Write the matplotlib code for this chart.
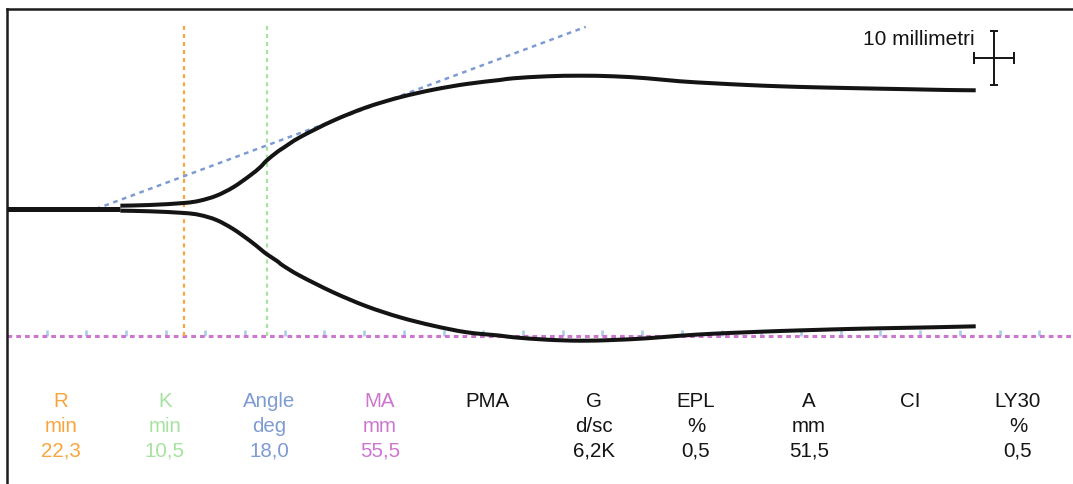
import matplotlib
matplotlib.use("Agg")
import matplotlib.pyplot as plt
from matplotlib.path import Path
from matplotlib.patches import PathPatch

plt.rcParams['font.family'] = ['Liberation Sans', 'DejaVu Sans']
plt.rcParams['lines.scale_dashes'] = False

# ---- TEG parameters -------------------------------------------------------
r_time = 22.3      # min
k_time = 10.5      # min
angle_deg = 18.0   # deg
ma_mm = 55.5       # mm

# ---- traced amplitude (mm) against time (min) ----------------------------
trace_time = [14.3, 18.0, 22.3, 24.3, 26.4, 28.5, 30.6, 31.9, 32.7, 34.0,
              34.8, 36.9, 41.1, 45.3, 49.5, 53.7, 57.9, 62.1, 63.8, 68.0,
              72.2, 76.4, 80.6, 84.8, 89.0, 93.2, 97.4, 101.6, 105.8, 110.0,
              114.1, 118.3, 122.0]
trace_upper = [0.72, 0.87, 1.31, 1.81, 2.90, 4.73, 7.26, 9.09, 10.53, 12.36,
               13.3, 15.63, 19.25, 22.17, 24.35, 26.0, 27.25, 28.12, 28.49, 28.92,
               29.05, 28.92, 28.49, 27.83, 27.40, 27.03, 26.74, 26.53, 26.37, 26.22,
               26.09, 25.94, 25.87]
trace_lower = [-0.37, -0.50, -0.87, -1.31, -2.40, -4.36, -6.91, -8.7, -9.81, -11.3,
               -12.36, -14.54, -18.16, -21.21, -23.60, -25.44, -26.87, -27.60, -27.96, -28.49,
               -28.71, -28.55, -28.18, -27.62, -27.18, -26.87, -26.59, -26.37, -26.16, -26.0,
               -25.87, -25.72, -25.57]

baseline_time = [0.0, 14.3]
baseline_amp = [0.0, 0.0]

angle_line_time = [11.2, 72.9]
angle_line_amp = [0.0, 39.7]

grid_minutes = list(range(5, 135, 5))

# scale cross: 5 min wide, 10 mm label
scale_time, scale_amp = 124.3, 32.9
scale_half_time, scale_half_amp = 2.5, 5.9

param_names = ["R", "K", "Angle", "MA", "PMA", "G", "EPL", "A", "CI", "LY30"]
param_units = ["min", "min", "deg", "mm", "", "d/sc", "%", "mm", "", "%"]
param_values = ["22,3", "10,5", "18,0", "55,5", "", "6,2K", "0,5", "51,5", "", "0,5"]

# ---- colours --------------------------------------------------------------
C_R = '#f7a53d'
C_K = '#a6e2a0'
C_ANGLE = '#7f9bd3'
C_MA = '#cd76cf'
C_GRID = '#a9cde9'
C_INK = '#141414'
param_colors = [C_R, C_K, C_ANGLE, C_MA] + [C_INK] * 6


def smooth_path(xs, ys, tension=1 / 6):
    """Catmull-Rom curve through every (x, y) sample, as a cubic Bezier path."""
    pts = list(zip(xs, ys))
    verts = [pts[0]]
    codes = [Path.MOVETO]
    n = len(pts)
    for i in range(n - 1):
        p0 = pts[i - 1] if i > 0 else pts[i]
        p1 = pts[i]
        p2 = pts[i + 1]
        p3 = pts[i + 2] if i + 2 < n else pts[i + 1]
        c1 = (p1[0] + (p2[0] - p0[0]) * tension, p1[1] + (p2[1] - p0[1]) * tension)
        c2 = (p2[0] - (p3[0] - p1[0]) * tension, p2[1] - (p3[1] - p1[1]) * tension)
        verts += [c1, c2, p2]
        codes += [Path.CURVE4] * 3
    return Path(verts, codes)


W, H = 1073, 485
fig = plt.figure(figsize=(W / 100, H / 100), dpi=100)
ax = fig.add_axes([7 / W, 0, 1 - 7 / W, (H - 10) / H])
ax.set_xlim(0.025, 134.25)
ax.set_ylim(-59.94, 43.59)
ax.set_xticks([])
ax.set_yticks([])
for side in ('right', 'bottom'):
    ax.spines[side].set_visible(False)
for side in ('left', 'top'):
    ax.spines[side].set_linewidth(1.8)
    ax.spines[side].set_color('#1c1c1c')

ma_level = -ma_mm / 2

# minute grid marks sitting on the MA line
ax.vlines(grid_minutes, ma_level, ma_level + 1.3, color=C_GRID, lw=1.9, zorder=1)

# MA line
ax.axhline(ma_level, color=C_MA, lw=2.2, ls=(0, (3.4, 2.9)), zorder=2)

# R and R+K markers
ax.vlines([r_time, r_time + k_time], ma_level, 40.5,
          colors=[C_R, C_K], lw=1.6, linestyles=[(0, (2.9, 2.9))], zorder=2)

# angle tangent
ax.plot(angle_line_time, angle_line_amp, color=C_ANGLE, lw=1.8,
        ls=(0, (3.4, 3.3)), zorder=2)

# trace
ax.plot(baseline_time, baseline_amp, color=C_INK, lw=3.6,
        solid_capstyle='butt', zorder=3)
for amp in (trace_upper, trace_lower):
    ax.add_patch(PathPatch(smooth_path(trace_time, amp), facecolor='none',
                           edgecolor=C_INK, lw=2.9, capstyle='butt',
                           joinstyle='round', zorder=3))

# scale cross
ax.errorbar(scale_time, scale_amp, yerr=scale_half_amp, fmt='none',
            ecolor=C_INK, elinewidth=1.4, capsize=2.6, capthick=1.4)
ax.errorbar(scale_time, scale_amp, xerr=scale_half_time, fmt='none',
            ecolor=C_INK, elinewidth=1.4, capsize=4.0, capthick=1.4)
fig.text(975 / W, 1 - 45 / H, "10 millimetri", ha='right', va='baseline',
         fontsize=15, color=C_INK)

# parameter table
col_x = [61, 165, 269, 380, 487, 594, 696, 809, 910, 1018]
row_y = [407.5, 432.5, 456.5]
for x, name, unit, val, col in zip(col_x, param_names, param_units,
                                   param_values, param_colors):
    for y, s in zip(row_y, (name, unit, val)):
        if s:
            fig.text(x / W, 1 - y / H, s, ha='center', va='baseline',
                     fontsize=14.8, color=col)

fig.savefig("out.png", dpi=100)
